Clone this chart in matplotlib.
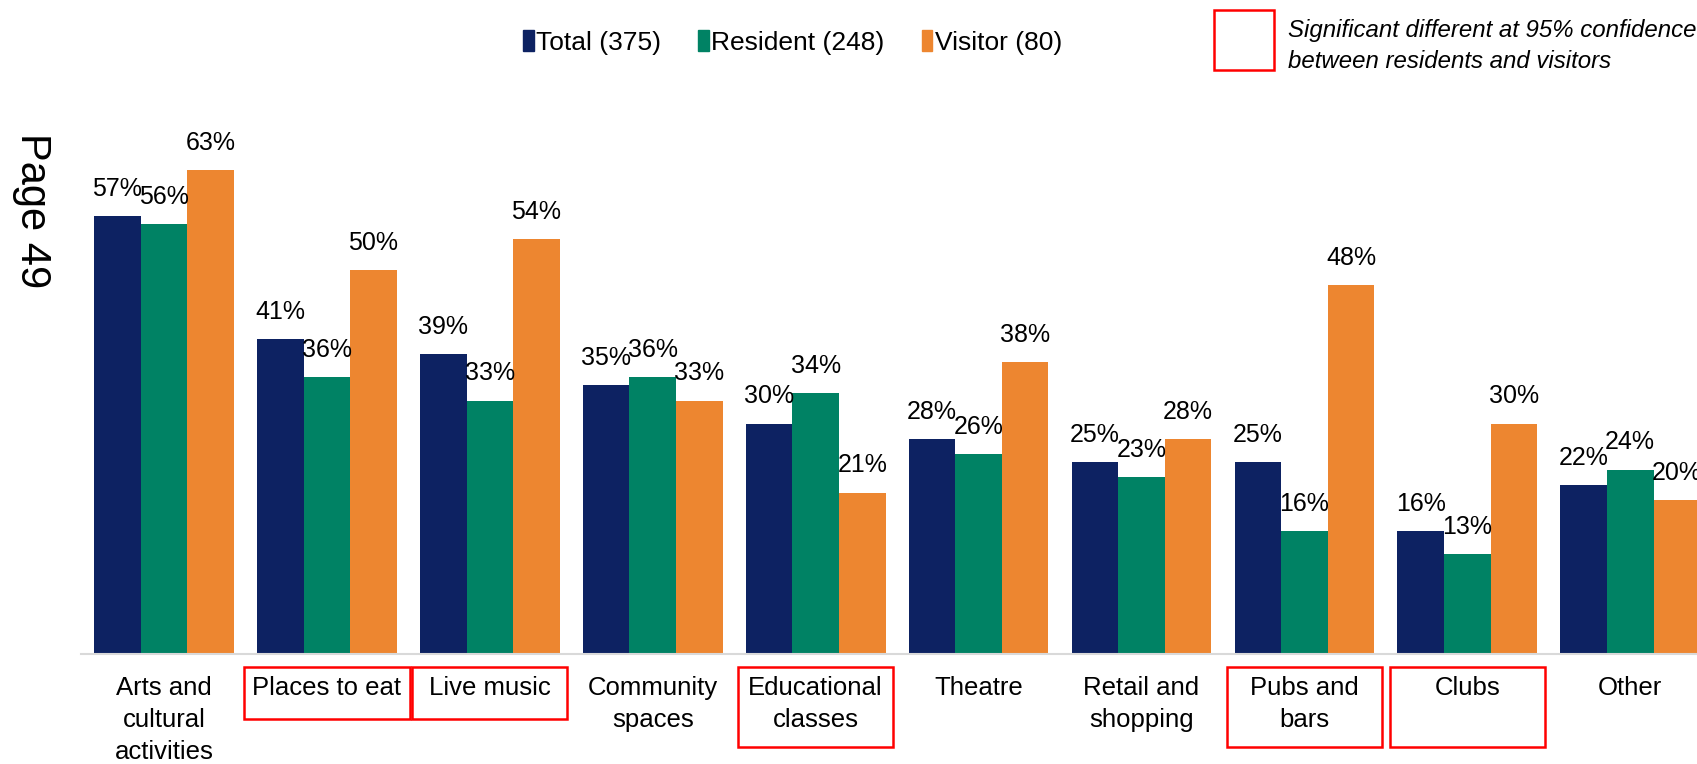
import matplotlib.pyplot as plt
import matplotlib.transforms as mtransforms
from matplotlib.patches import Rectangle, Patch
import numpy as np

plt.rcParams['font.family'] = ['Liberation Sans', 'DejaVu Sans']

categories = ["Arts and\ncultural\nactivities", "Places to eat", "Live music",
              "Community\nspaces", "Educational\nclasses", "Theatre",
              "Retail and\nshopping", "Pubs and\nbars", "Clubs", "Other"]
total = [57, 41, 39, 35, 30, 28, 25, 25, 16, 22]
resident = [56, 36, 33, 36, 34, 26, 23, 16, 13, 24]
visitor = [63, 50, 54, 33, 21, 38, 28, 48, 30, 20]
series_names = ["Total (375)", "Resident (248)", "Visitor (80)"]
significant = [1, 2, 4, 7, 8]

colors = ["#0D2262", "#008264", "#ED8630"]

fig = plt.figure(figsize=(16.97, 7.64), dpi=100)
ax = fig.add_axes([0.0477, 0.144, 0.9523, 0.7037])

x = np.arange(len(categories))
w = 0.286
for k, vals in enumerate([total, resident, visitor]):
    bars = ax.bar(x + (k - 1) * w, vals, w, color=colors[k], label=series_names[k])
    for b, v in zip(bars, vals):
        ax.annotate(f"{v}%", (b.get_x() + b.get_width() / 2, v), xytext=(0, 11),
                    textcoords="offset points", ha="center", va="bottom", fontsize=18)

ax.set_xlim(-0.51, 9.41)
ax.set_ylim(0, 70)
ax.set_yticks([])
for s in ["top", "left", "right"]:
    ax.spines[s].set_visible(False)
ax.spines["bottom"].set_color("#D9D9D9")
ax.spines["bottom"].set_linewidth(1.5)
ax.set_xticks(x)
ax.set_xticklabels(categories, fontsize=18.5, linespacing=1.42)
ax.tick_params(axis="x", length=0, pad=16)

# red boxes around significant categories
trans = mtransforms.blended_transform_factory(ax.transData, ax.transAxes)
box_w = {1: 1.02}
for i in significant:
    bw = box_w.get(i, 0.95)
    y0 = -0.121 if i in (1, 2) else -0.173
    ax.add_patch(Rectangle((i - bw / 2, y0), bw, -0.024 - y0, transform=trans,
                           fill=False, edgecolor="red", linewidth=1.8, clip_on=False))

handles = [Patch(color=c) for c in colors]
fig.legend(handles, series_names, loc="center", bbox_to_anchor=(0.467, 0.944), ncol=3,
           frameon=False, fontsize=19, handlelength=0.4, handleheight=0.85,
           handletextpad=0.1, columnspacing=1.4)

fig.add_artist(Rectangle((1214 / 1697, 1 - 70 / 764), 60 / 1697, 60 / 764,
                         transform=fig.transFigure, fill=False, edgecolor="red", linewidth=1.8))
fig.text(1288 / 1697, 1 - 46 / 764, "Significant different at 95% confidence\nbetween residents and visitors",
         fontsize=17.3, style="italic", va="center", ha="left", linespacing=1.5)

fig.text(32 / 1697, 1 - 211 / 764, "Page 49", rotation=-90, fontsize=30, ha="center", va="center")

fig.savefig("out.png", dpi=100)
